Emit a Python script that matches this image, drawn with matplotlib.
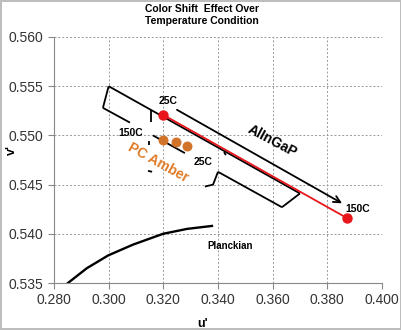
import matplotlib
matplotlib.use("Agg")
import matplotlib.pyplot as plt

plt.rcParams['font.family'] = ['Liberation Sans', 'DejaVu Sans']

# AlInGaP shift 25C -> 150C
red_u = [0.3199, 0.3872]
red_v = [0.5521, 0.5416]
red_lbl = ['25C', '150C']

# PC Amber points
pc_u = [0.3199, 0.3246, 0.3288]
pc_v = [0.5495, 0.5493, 0.5489]

# Planckian locus
planck_u = [0.2851, 0.2920, 0.2998, 0.3089, 0.3199, 0.3287, 0.3378]
planck_v = [0.5350, 0.5365, 0.5378, 0.5389, 0.5400, 0.5405, 0.5408]

# visible pieces of bin outlines (u list, v list)
bin_segs = [
    ([0.3000, 0.3700], [0.5550, 0.5441]),
    ([0.3000, 0.2979], [0.5550, 0.5528]),
    ([0.2979, 0.3078], [0.5528, 0.5513]),
    ([0.3162, 0.3279], [0.5500, 0.5482]),
    ([0.3400, 0.3634], [0.5463, 0.5427]),
    ([0.3634, 0.3700], [0.5427, 0.5441]),
    ([0.3155, 0.3155], [0.5526, 0.5514]),
    ([0.3148, 0.3148], [0.5494, 0.5490]),
    ([0.3144, 0.3159], [0.5464, 0.5463]),
    ([0.3400, 0.3382, 0.3352], [0.5463, 0.5450, 0.5448]),
    ([0.3422, 0.3429], [0.5483, 0.5480]),
]

arrow_start = (0.3250, 0.5526)
arrow_end = (0.3854, 0.5431)

xticks = [0.280, 0.300, 0.320, 0.340, 0.360, 0.380, 0.400]
yticks = [0.535, 0.540, 0.545, 0.550, 0.555, 0.560]

fig = plt.figure(figsize=(4.02, 3.30), dpi=100)
fig.patch.set_edgecolor('#bdbdbd')
fig.patch.set_linewidth(1.5)
ax = fig.add_axes([0.1343, 0.1424, 0.8159, 0.7455])

for su, sv in bin_segs:
    ax.plot(su, sv, color='black', lw=1.3, solid_capstyle='butt')

ax.plot(planck_u, planck_v, color='black', lw=1.7)
ax.plot(red_u, red_v, color='#e8161b', lw=1.3)
ax.scatter(red_u, red_v, s=42, color='#e8161b', zorder=5)
ax.scatter(pc_u, pc_v, s=38, color='#d2732a', zorder=5)

ax.annotate('', xy=arrow_end, xytext=arrow_start,
            arrowprops=dict(arrowstyle='->', color='black', lw=1.3,
                            mutation_scale=12, shrinkA=0, shrinkB=0))

ax.text(0.3217, 0.5535, red_lbl[0], fontsize=7.5, fontweight='bold', ha='center', va='center')
ax.text(0.3912, 0.5425, red_lbl[1], fontsize=7.5, fontweight='bold', ha='center', va='center')
ax.text(0.3082, 0.5502, '150C', fontsize=7.5, fontweight='bold', ha='center', va='center')
ax.text(0.3345, 0.5473, '25C', fontsize=7.5, fontweight='bold', ha='center', va='center')
ax.text(0.3598, 0.5494, 'AlInGaP', fontsize=10, fontweight='bold', ha='center', va='center',
        rotation=-28, rotation_mode='anchor')
ax.text(0.3180, 0.5472, 'PC Amber', fontsize=10, fontweight='bold', color='#e07b28',
        ha='center', va='center', rotation=-29, rotation_mode='anchor')
ax.text(0.3444, 0.5388, 'Planckian', fontsize=7, fontweight='bold', ha='center', va='center')

ax.set_xlim(0.280, 0.400)
ax.set_ylim(0.535, 0.560)
ax.set_xticks(xticks)
ax.set_yticks(yticks)
ax.set_xticklabels(['%.3f' % t for t in xticks], fontsize=10, color='#333333')
ax.set_yticklabels(['%.3f' % t for t in yticks], fontsize=10, color='#333333')
ax.tick_params(length=4, color='#888888', width=0.8)
ax.grid(True, color='#999999', ls=(0, (2, 2)), lw=0.7)
ax.set_axisbelow(True)
for s in ['top', 'right']:
    ax.spines[s].set_visible(False)
for s in ['left', 'bottom']:
    ax.spines[s].set_color('#888888')

ax.set_xlabel("u'", fontsize=9, fontweight='bold')
ax.xaxis.set_label_coords(0.454, -0.142)
ax.set_ylabel("v'", fontsize=9, fontweight='bold')
ax.yaxis.set_label_coords(-0.11, 0.54)
fig.text(202 / 402, 1 - 4 / 330, 'Color Shift  Effect Over\nTemperature Condition',
         fontsize=7.5, fontweight='bold', ha='center', va='top', linespacing=1.25)

fig.savefig('out.png', dpi=100, edgecolor=fig.get_edgecolor())
